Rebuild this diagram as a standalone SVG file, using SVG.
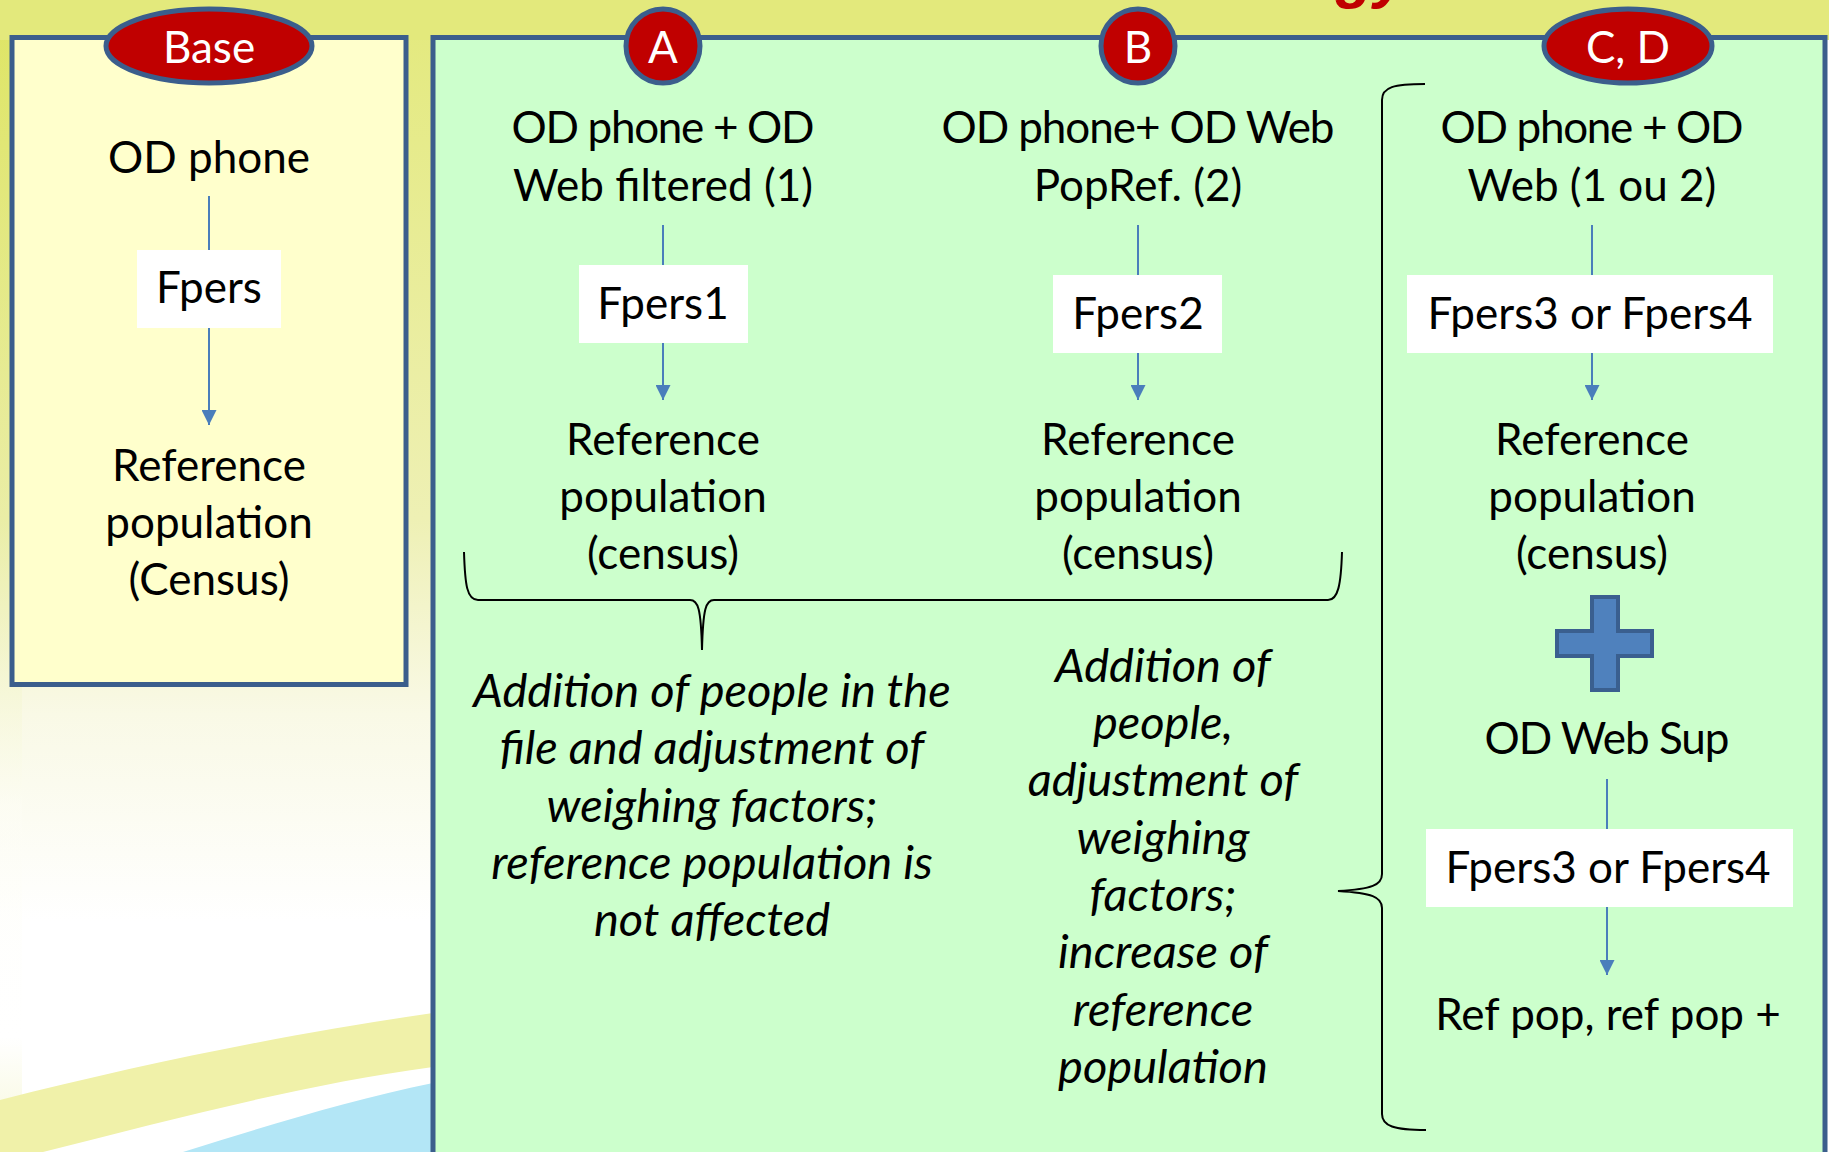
<svg xmlns="http://www.w3.org/2000/svg" width="1829" height="1152" viewBox="0 0 1829 1152">
<style>
.t{font-family:Lato,"Liberation Sans",sans-serif;font-size:44px;fill:#000;text-anchor:middle}
.i{font-style:italic;font-size:47px}
.lbl{font-family:Lato,"Liberation Sans",sans-serif;font-size:44px;fill:#fff;text-anchor:middle}
.frame{stroke:#3b5e8c;stroke-width:5}
.badge{fill:#c00000;stroke:#3b5e8c;stroke-width:5}
.box{fill:#fff}
.conn{stroke:#4a7ebb;stroke-width:2;fill:none}
.brace{stroke:#000;stroke-width:2;fill:none}
</style>
<defs>
<linearGradient id="leftbg" x1="0" y1="0" x2="0" y2="1">
<stop offset="0" stop-color="#e3e97c"/>
<stop offset="0.45" stop-color="#eef0b4"/>
<stop offset="0.62" stop-color="#f9f9e6"/>
<stop offset="0.8" stop-color="#ffffff"/>
<stop offset="1" stop-color="#ffffff"/>
</linearGradient>
<linearGradient id="strip" x1="0" y1="0" x2="0" y2="1">
<stop offset="0" stop-color="#d8e04a"/>
<stop offset="0.45" stop-color="#e6eb98"/>
<stop offset="0.7" stop-color="#fdfdf4"/>
<stop offset="0.9" stop-color="#ffffff"/>
<stop offset="1" stop-color="#eef0b0"/>
</linearGradient>
<marker id="arr" viewBox="0 0 10 10" refX="10" refY="5" markerUnits="userSpaceOnUse" markerWidth="15" markerHeight="15" orient="auto">
<path d="M0,0 L10,5 L0,10 z" fill="#4a7ebb"/>
</marker>
</defs>
<g id="background">
<rect x="0" y="0" width="1829" height="1152" fill="#ffffff"/>
<rect x="0" y="0" width="440" height="1152" fill="url(#leftbg)"/>
<rect x="0" y="0" width="22" height="1152" fill="url(#strip)" opacity="0.5"/>
<rect x="0" y="0" width="1829" height="40" fill="#e3e97c"/>
<path d="M0,1100 C150,1062 300,1032 433,1013 L433,1067 C300,1085 170,1120 43,1152 L0,1152 z" fill="#f0f1a9"/>
<path d="M183,1152 C270,1125 350,1100 433,1083 L433,1152 z" fill="#b3e6f6"/>
<text x="1372" y="-4" font-family="Liberation Sans,sans-serif" font-size="62" font-weight="bold" font-style="italic" fill="#c00000" text-anchor="middle">gy</text>
</g>
<g id="panel-base">
<rect class="frame" x="12" y="37.5" width="394" height="647" fill="#ffffcc"/>
</g>
<g id="panel-abcd">
<rect class="frame" x="433" y="37.5" width="1392" height="1130" fill="#ccffcc"/>
</g>
<g id="badge-base"><ellipse class="badge" cx="209" cy="46" rx="103" ry="37"/><text class="lbl" x="209" y="63">Base</text></g>
<g id="badge-a"><ellipse class="badge" cx="663" cy="46" rx="37" ry="37"/><text class="lbl" x="663" y="63">A</text></g>
<g id="badge-b"><ellipse class="badge" cx="1138" cy="46" rx="37" ry="37"/><text class="lbl" x="1138" y="63">B</text></g>
<g id="badge-cd"><ellipse class="badge" cx="1628" cy="46" rx="84" ry="37"/><text class="lbl" x="1628" y="63">C, D</text></g>
<g id="connectors">
<line class="conn" x1="209" y1="196" x2="209" y2="250"/>
<line class="conn" x1="209" y1="328" x2="209" y2="425" marker-end="url(#arr)"/>
<line class="conn" x1="663" y1="225" x2="663" y2="265"/>
<line class="conn" x1="663" y1="343" x2="663" y2="400" marker-end="url(#arr)"/>
<line class="conn" x1="1138" y1="225" x2="1138" y2="275"/>
<line class="conn" x1="1138" y1="353" x2="1138" y2="400" marker-end="url(#arr)"/>
<line class="conn" x1="1592" y1="225" x2="1592" y2="275"/>
<line class="conn" x1="1592" y1="353" x2="1592" y2="400" marker-end="url(#arr)"/>
<line class="conn" x1="1607" y1="779" x2="1607" y2="829"/>
<line class="conn" x1="1607" y1="907" x2="1607" y2="975" marker-end="url(#arr)"/>
</g>
<g id="braces">
<path class="brace" d="M464,552 C465,585 467,600 478,600 L690,600 C698,600 701,608 702,650 C703,608 706,600 714,600 L1328,600 C1338,600 1341,585 1342,552"/>
<path class="brace" d="M1425,84 C1394,84 1382,87 1382,100 L1382,874 C1382,885 1372,889 1338,891 C1372,893 1382,897 1382,908 L1382,1114 C1382,1126 1394,1130 1426,1130"/>
</g>
<g id="node-base-od"><text class="t" x="209" y="173">OD phone</text></g>
<g id="node-fpers"><rect class="box" x="137" y="250" width="144" height="78"/><text class="t" x="209" y="303">Fpers</text></g>
<g id="node-base-ref"><text class="t" x="209" y="481">Reference</text><text class="t" x="209" y="538">population</text><text class="t" x="209" y="595">(Census)</text></g>
<g id="node-a-od"><text class="t" x="663" y="143" textLength="303">OD phone + OD</text><text class="t" x="663" y="201">Web filtered (1)</text></g>
<g id="node-fpers1"><rect class="box" x="579" y="265" width="169" height="78"/><text class="t" x="663" y="319">Fpers1</text></g>
<g id="node-a-ref"><text class="t" x="663" y="455">Reference</text><text class="t" x="663" y="512">population</text><text class="t" x="663" y="569">(census)</text></g>
<g id="node-b-od"><text class="t" x="1138" y="143" textLength="393">OD phone+ OD Web</text><text class="t" x="1138" y="201">PopRef. (2)</text></g>
<g id="node-fpers2"><rect class="box" x="1053" y="275" width="169" height="78"/><text class="t" x="1138" y="329">Fpers2</text></g>
<g id="node-b-ref"><text class="t" x="1138" y="455">Reference</text><text class="t" x="1138" y="512">population</text><text class="t" x="1138" y="569">(census)</text></g>
<g id="node-cd-od"><text class="t" x="1592" y="143" textLength="303">OD phone + OD</text><text class="t" x="1592" y="201">Web (1 ou 2)</text></g>
<g id="node-fpers34"><rect class="box" x="1407" y="275" width="366" height="78"/><text class="t" x="1590" y="329">Fpers3 or Fpers4</text></g>
<g id="node-cd-ref"><text class="t" x="1592" y="455">Reference</text><text class="t" x="1592" y="512">population</text><text class="t" x="1592" y="569">(census)</text></g>
<g id="node-plus"><path d="M1592,597 H1618 V631 H1652 V656 H1618 V690 H1592 V656 H1557 V631 H1592 Z" fill="#4f81bd" stroke="#3a5f8f" stroke-width="4"/></g>
<g id="node-websup"><text class="t" x="1607" y="754" textLength="245">OD Web Sup</text></g>
<g id="node-fpers34b"><rect class="box" x="1426" y="829" width="367" height="78"/><text class="t" x="1608" y="883">Fpers3 or Fpers4</text></g>
<g id="node-refpop"><text class="t" x="1608" y="1030">Ref pop, ref pop +</text></g>
<g id="note-a"><text class="t i" x="712" y="707">Addition of people in the</text><text class="t i" x="712" y="764">file and adjustment of</text><text class="t i" x="712" y="822">weighing factors;</text><text class="t i" x="712" y="879">reference population is</text><text class="t i" x="712" y="936">not affected</text></g>
<g id="note-b"><text class="t i" x="1163" y="682">Addition of</text><text class="t i" x="1163" y="739">people,</text><text class="t i" x="1163" y="796">adjustment of</text><text class="t i" x="1163" y="854">weighing</text><text class="t i" x="1163" y="911">factors;</text><text class="t i" x="1163" y="968">increase of</text><text class="t i" x="1163" y="1026">reference</text><text class="t i" x="1163" y="1083">population</text></g>
</svg>
